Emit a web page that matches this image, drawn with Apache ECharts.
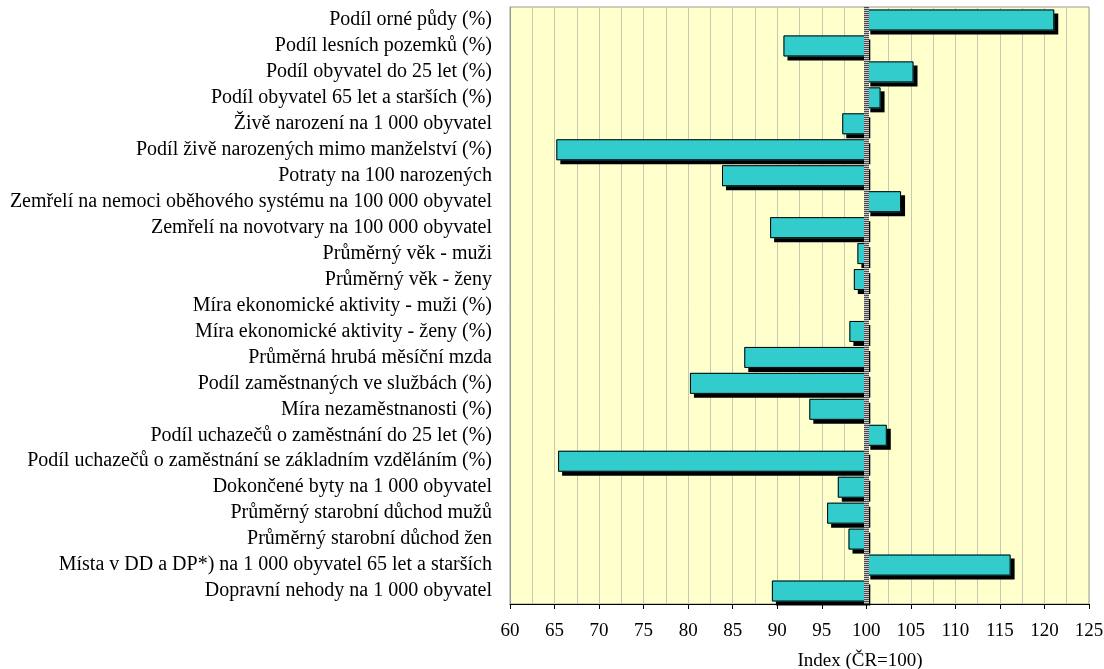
<!DOCTYPE html>
<html>
<head>
<meta charset="utf-8">
<script src="https://cdn.jsdelivr.net/npm/echarts@6/dist/echarts.min.js"></script>
<style>html,body{margin:0;padding:0;background:#fff}#c{width:1104px;height:669px}</style>
</head>
<body>
<div id="c"></div>
<script>
const categories = [
  "Podíl orné půdy (%)",
  "Podíl lesních pozemků (%)",
  "Podíl obyvatel do 25 let (%)",
  "Podíl obyvatel 65 let a starších (%)",
  "Živě narození na 1 000 obyvatel",
  "Podíl živě narozených mimo manželství (%)",
  "Potraty na 100 narozených",
  "Zemřelí na nemoci oběhového systému na 100 000 obyvatel",
  "Zemřelí na novotvary na 100 000 obyvatel",
  "Průměrný věk - muži",
  "Průměrný věk - ženy",
  "Míra ekonomické aktivity - muži (%)",
  "Míra ekonomické aktivity - ženy (%)",
  "Průměrná hrubá měsíční mzda",
  "Podíl zaměstnaných ve službách (%)",
  "Míra nezaměstnanosti (%)",
  "Podíl uchazečů o zaměstnání do 25 let (%)",
  "Podíl uchazečů o zaměstnání se základním vzděláním (%)",
  "Dokončené byty na 1 000 obyvatel",
  "Průměrný starobní důchod mužů",
  "Průměrný starobní důchod žen",
  "Místa v DD a DP*) na 1 000 obyvatel 65 let a starších",
  "Dopravní nehody na 1 000 obyvatel"
];
const indexValues = [121.1, 90.7, 105.3, 101.6, 97.3, 65.2, 83.8, 103.9, 89.2, 99.0, 98.6, 99.8, 98.1, 86.3, 80.2, 93.6, 102.3, 65.4, 96.8, 95.6, 98.0, 116.2, 89.4];
const baseline = 100;
const axisMin = 60, axisMax = 125, axisStep = 5;

const baseData = indexValues.map(v => Math.min(v, baseline));
const deltaData = indexValues.map(v => Math.abs(v - baseline));

const font = "'Liberation Serif', 'Times New Roman', serif";
const BW = 21;
const chart = echarts.init(document.getElementById('c'));
chart.setOption({
  animation: false,
  grid: {
    left: 510, right: 15, top: 7, bottom: 65,
    outerBoundsMode: 'none', containLabel: false,
    show: true, backgroundColor: '#FFFFCC', borderColor: '#999999', borderWidth: 1
  },
  xAxis: {
    type: 'value', min: axisMin, max: axisMax, interval: axisStep,
    name: 'Index (ČR=100)', nameLocation: 'middle', nameGap: 48,
    nameTextStyle: { fontFamily: font, fontSize: 19, color: '#000', padding: [0, 0, 0, 121] },
    axisLine: { show: true, lineStyle: { color: '#000', width: 1 } },
    axisTick: { show: true, length: 5, lineStyle: { color: '#000' } },
    axisLabel: { fontFamily: font, fontSize: 19, color: '#000', margin: 18 },
    splitLine: { show: true, lineStyle: { color: '#c8c8b4', width: 1 } },
    minorTick: { show: false, splitNumber: 2 },
    minorSplitLine: { show: true, lineStyle: { color: '#c8c8b4', width: 1 } }
  },
  yAxis: {
    type: 'category', data: categories, inverse: true,
    axisLine: { show: true, lineStyle: { color: '#999999' } },
    axisTick: { show: false },
    axisLabel: { fontFamily: font, fontSize: 20, color: '#000', margin: 18, interval: 0 },
    splitLine: { show: false }
  },
  series: [
    {
      type: 'bar', stack: 'fill', data: baseData, barWidth: BW, barGap: '-100%',
      itemStyle: { color: 'transparent' }, silent: true,
      markLine: {
        silent: true, symbol: 'none', label: { show: false },
        lineStyle: { color: '#c8c8c8', width: 5, type: 'solid' },
        data: [{ xAxis: baseline }]
      }
    },
    {
      type: 'bar', stack: 'fill', data: deltaData, barWidth: BW, barGap: '-100%',
      itemStyle: {
        color: '#33CCCC', borderWidth: 0,
        shadowColor: '#000', shadowBlur: 0, shadowOffsetX: 4, shadowOffsetY: 4
      }
    },
    {
      type: 'bar', stack: 'edge', data: baseData, barWidth: BW, barGap: '-100%',
      itemStyle: { color: 'transparent' }, silent: true
    },
    {
      type: 'bar', stack: 'edge', data: deltaData, barWidth: BW, barGap: '-100%',
      itemStyle: { color: 'transparent', borderColor: '#000', borderWidth: 1 },
      markLine: {
        silent: true, symbol: 'none', label: { show: false },
        lineStyle: { color: '#4a4a4a', width: 5, type: [1, 1] },
        data: [{ xAxis: baseline }]
      }
    }
  ]
});
</script>
</body>
</html>
